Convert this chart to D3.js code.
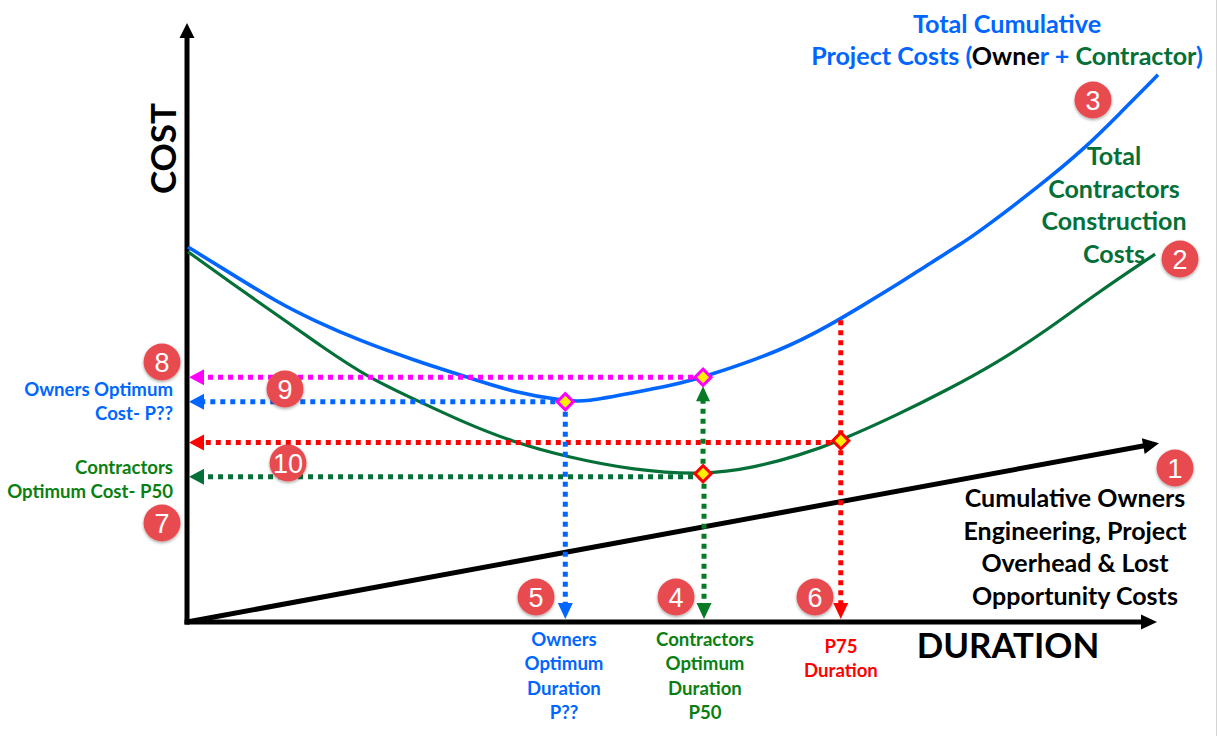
<!DOCTYPE html>
<html>
<head>
<meta charset="utf-8">
<script src="https://cdn.jsdelivr.net/npm/d3@7/dist/d3.min.js"></script>
<style>
html,body{margin:0;padding:0;background:#fff;}
svg{display:block;}
text{font-family:Lato,"Open Sans",sans-serif;font-weight:700;}
</style>
</head>
<body>
<svg id="chart" width="1217" height="736"></svg>
<script>
// Duration and cost are both expressed on a relative 0-100 scale.
const totalDuration = [0.1, 4.4, 9.3, 13, 18.1, 23.3, 28.9, 33.6, 39.1, 41, 46, 50.1, 53.3, 61.4, 66.3, 69.7, 73.2, 76.6, 80, 82.3, 87.9, 92.4, 96.2, 100.1];
const totalProjectCost = [62.5, 58.2, 53.3, 50.3, 46.7, 43.7, 40.8, 38.3, 36.8, 36.7, 38.2, 39.5, 40.8, 45.3, 49.5, 52.8, 56.2, 59.8, 63.2, 65.8, 72.7, 78.7, 84.8, 91.2];
const contractorDuration = [0.1, 4.4, 9.6, 14, 18.6, 24, 28.5, 33.6, 39.2, 46, 53.3, 58.4, 63.2, 67.3, 73.2, 78.4, 83.5, 88.7, 93.8, 99.8];
const contractorCost = [61.7, 56.7, 50.8, 45.8, 40.8, 36.7, 33.3, 30, 27.5, 25.3, 24.5, 25.7, 27.8, 30.2, 34.5, 38.7, 43.2, 48.7, 54.8, 61.3];
const ownerDuration = [0, 100];
const ownerCost = [0, 29.8];

const optimumOwnerDuration = 39;
const optimumContractorDuration = 53.2;
const p75Duration = 67.4;
const costLevels = {magenta: 40.8, blue: 36.7, red: 29.9, green: 24.2};
const costAtP75 = 50.3;
const contractorCostAtOptimum = 24.7;

const titleLines = ["Total Cumulative"];
const totalLabel = ["Total", "Contractors", "Construction", "Costs"];
const ownerLabel = ["Cumulative Owners", "Engineering, Project", "Overhead & Lost", "Opportunity Costs"];
const ownerOptimumCost = ["Owners Optimum", "Cost- P??"];
const contractorOptimumCost = ["Contractors", "Optimum Cost- P50"];
const ownerOptimumDuration = ["Owners", "Optimum", "Duration", "P??"];
const contractorOptimumDuration = ["Contractors", "Optimum", "Duration", "P50"];
const p75Label = ["P75", "Duration"];

const BLUE = "#0066ff", GREEN = "#047038", LABEL_GREEN = "#0a8012", DOT_GREEN = "#067a24",
      RED = "#ff0000", MAGENTA = "#ff00ff";

const svg = d3.select("#chart");
const x = d3.scaleLinear().domain([0, 100]).range([187, 1157]);
const y = d3.scaleLinear().domain([0, 100]).range([622, 22]);

// Hairline along the right edge of the page.
svg.append("line").attr("x1", 1216.5).attr("x2", 1216.5).attr("y1", 0).attr("y2", 736)
  .attr("stroke", "#d4d4d4").attr("stroke-width", 1);

const defs = svg.append("defs");
const shadow = defs.append("filter").attr("id", "badgeShadow")
  .attr("x", "-30%").attr("y", "-30%").attr("width", "160%").attr("height", "160%");
shadow.append("feDropShadow").attr("dx", 0).attr("dy", 1.5).attr("stdDeviation", 1.5)
  .attr("flood-color", "#000").attr("flood-opacity", 0.35);

// Solid triangular arrowhead with its tip at (tx, ty), pointing along angle (degrees).
function arrowHead(tx, ty, angle, len, half, fill) {
  svg.append("path")
    .attr("d", `M0,0L${-len},${-half}L${-len},${half}Z`)
    .attr("transform", `translate(${tx},${ty}) rotate(${angle})`)
    .attr("fill", fill);
}

// Axes carry no ticks, only the heavy domain line.
const xAxis = svg.append("g").attr("transform", `translate(0,${y(0)})`)
  .call(d3.axisBottom(x).tickValues([]).tickSizeOuter(0));
const yAxis = svg.append("g").attr("transform", `translate(${x(0)},0)`)
  .call(d3.axisLeft(y).tickValues([]).tickSizeOuter(0));
[xAxis, yAxis].forEach(a => a.select(".domain").attr("stroke", "#000").attr("stroke-width", 5));
yAxis.select(".domain").attr("d", `M0,${y(0) + 2.5}V32`);
xAxis.select(".domain").attr("d", `M${x(0) - 2.5},0H${x(100) - 12}`);
arrowHead(x(100), y(0), 0, 16, 7.5, "#000");
arrowHead(x(0), 23, -90, 15, 7.5, "#000");

const line = d3.line().x(d => x(d[0])).y(d => y(d[1])).curve(d3.curveBasis);

// Cumulative owner costs: straight rising line with an arrowhead.
const ownerAngle = Math.atan2(y(ownerCost[1]) - y(ownerCost[0]), x(ownerDuration[1]) - x(ownerDuration[0])) * 180 / Math.PI;
svg.append("line")
  .attr("x1", x(ownerDuration[0])).attr("y1", y(ownerCost[0]))
  .attr("x2", x(ownerDuration[1]) - 10).attr("y2", y(ownerCost[1]) + 2)
  .attr("stroke", "#000").attr("stroke-width", 5);
arrowHead(x(ownerDuration[1]) + 2, y(ownerCost[1]), ownerAngle, 16, 8, "#000");

// Contractor and total project cost curves.
svg.append("path").datum(d3.zip(contractorDuration, contractorCost))
  .attr("d", line).attr("fill", "none").attr("stroke", GREEN).attr("stroke-width", 3.2);
svg.append("path").datum(d3.zip(totalDuration, totalProjectCost))
  .attr("d", line).attr("fill", "none").attr("stroke", BLUE).attr("stroke-width", 3.6);

// Dotted guides running back to the axes.
function hGuide(xFrom, level, color) {
  svg.append("line")
    .attr("x1", x(xFrom)).attr("x2", x(0) + 14)
    .attr("y1", y(level)).attr("y2", y(level))
    .attr("stroke", color).attr("stroke-width", 5).attr("stroke-dasharray", "5,5");
  arrowHead(x(0) + 2, y(level), 180, 15, 8, color);
}
function vGuideDown(xAt, fromLevel, color) {
  svg.append("line")
    .attr("x1", x(xAt)).attr("x2", x(xAt))
    .attr("y1", y(fromLevel)).attr("y2", y(0) - 14)
    .attr("stroke", color).attr("stroke-width", 5).attr("stroke-dasharray", "5,5");
  arrowHead(x(xAt), y(0) - 3, 90, 16, 7.5, color);
}
hGuide(optimumContractorDuration, costLevels.magenta, MAGENTA);
hGuide(optimumOwnerDuration, costLevels.blue, BLUE);
hGuide(p75Duration, costLevels.red, RED);
hGuide(optimumContractorDuration, costLevels.green, GREEN);
vGuideDown(optimumOwnerDuration, costLevels.blue, BLUE);
vGuideDown(p75Duration, costAtP75, RED);
vGuideDown(optimumContractorDuration + 0.1, contractorCostAtOptimum, DOT_GREEN);
// Upward guide from the contractor optimum to the total cost curve.
svg.append("line")
  .attr("x1", x(optimumContractorDuration)).attr("x2", x(optimumContractorDuration))
  .attr("y1", y(contractorCostAtOptimum)).attr("y2", y(costLevels.magenta) + 20)
  .attr("stroke", DOT_GREEN).attr("stroke-width", 5).attr("stroke-dasharray", "5,5");
arrowHead(x(optimumContractorDuration), y(costLevels.magenta) + 9, -90, 15, 7, DOT_GREEN);

// Diamonds marking the key intersections.
function diamond(xVal, yVal, stroke) {
  svg.append("path")
    .attr("d", d3.symbol(d3.symbolSquare, 130)())
    .attr("transform", `translate(${x(xVal)},${y(yVal)}) rotate(45)`)
    .attr("fill", "#ffee00").attr("stroke", stroke).attr("stroke-width", 3);
}
diamond(optimumOwnerDuration, costLevels.blue, MAGENTA);
diamond(optimumContractorDuration, costLevels.magenta, MAGENTA);
diamond(p75Duration, 30.2, RED);
diamond(optimumContractorDuration, contractorCostAtOptimum, RED);

// Stacked, line-by-line text block.
function textBlock(lines, px, firstBaseline, step, size, color, anchor) {
  lines.forEach((t, i) => {
    svg.append("text").attr("x", px).attr("y", firstBaseline + i * step)
      .attr("text-anchor", anchor || "middle")
      .attr("font-size", size).attr("fill", color).text(t);
  });
}
textBlock(titleLines, 1007, 33, 0, 25.2, BLUE);
const project = svg.append("text").attr("x", 1007).attr("y", 65)
  .attr("text-anchor", "middle").attr("font-size", 25.1);
[["Project Costs (", BLUE], ["Owne", "#000"], ["r + ", BLUE], ["Contractor", GREEN], [")", BLUE]]
  .forEach(([t, c]) => project.append("tspan").attr("fill", c).text(t));

textBlock(totalLabel, 1114, 165, 32.5, 25, GREEN);
textBlock(ownerLabel, 1075, 507, 32.5, 25, "#000");
textBlock(ownerOptimumCost, 173, 396, 24, 18.6, BLUE, "end");
textBlock(contractorOptimumCost, 173, 474, 24, 18.6, LABEL_GREEN, "end");
textBlock(ownerOptimumDuration, 564, 646, 24.4, 18.6, BLUE);
textBlock(contractorOptimumDuration, 705, 646, 24.4, 18.6, LABEL_GREEN);
textBlock(p75Label, 841, 653, 24.4, 18.6, RED);

svg.append("text").attr("x", 1008).attr("y", 658).attr("text-anchor", "middle")
  .attr("font-size", 34.8).attr("fill", "#000").text("DURATION");
svg.append("text").attr("transform", "translate(176,148.5) rotate(-90)").attr("text-anchor", "middle")
  .attr("font-size", 35).attr("fill", "#000").text("COST");

// Numbered callouts.
const calloutNumbers = [1, 2, 3, 4, 5, 6, 7, 8, 9, 10];
const calloutCenters = [[1175, 468], [1180, 259], [1093, 100], [676, 597], [536, 597],
                        [815, 597], [162, 523], [162, 362], [285, 389], [288, 463]];
const callouts = svg.append("g").selectAll("g").data(d3.zip(calloutNumbers, calloutCenters)).join("g")
  .attr("transform", d => `translate(${d[1][0]},${d[1][1]})`);
callouts.append("circle").attr("r", 18.5).attr("fill", "#e84c4f").attr("filter", "url(#badgeShadow)");
callouts.append("text").attr("text-anchor", "middle").attr("y", 10)
  .style("font-family", "'Liberation Sans',Arial,sans-serif").style("font-weight", 400)
  .attr("font-size", 27).attr("fill", "#fff").text(d => d[0]);
</script>
</body>
</html>
